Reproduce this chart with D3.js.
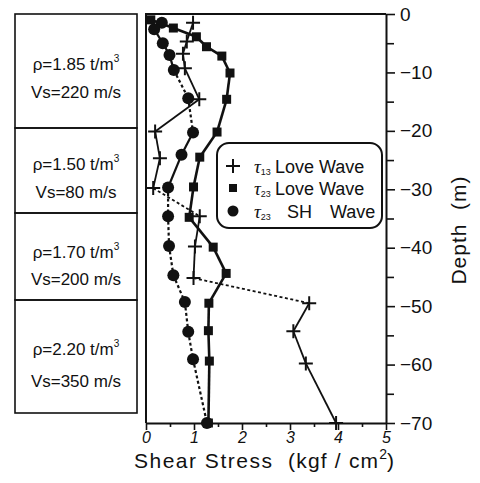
<!DOCTYPE html>
<html><head><meta charset="utf-8">
<script src="https://cdn.jsdelivr.net/npm/d3@7/dist/d3.min.js"></script>
<style>
html,body{margin:0;padding:0;background:#fff;}
svg text{font-family:"Liberation Sans",Arial,Helvetica,sans-serif;fill:#111;white-space:pre;}
</style></head>
<body><svg id="c" width="480" height="483"></svg>
<script>
// ---- data ----
const plusDepth  = [-1.5, -4.7, -6.8, -9.3, -14.6, -20.1, -24.7, -29.8, -34.6, -39.8, -45.2, -49.5, -54.3, -59.8, -70];
const plusStress = [0.98, 0.85, 0.77, 0.81, 1.11, 0.19, 0.29, 0.15, 1.12, 1.02, 0.99, 3.40, 3.07, 3.33, 3.96];
const plusDashedSeg = [7, 10];

const sqDepth  = [-1, -2.4, -3.9, -5.6, -7.2, -10.1, -14.6, -20.2, -24.5, -29.6, -34.8, -39.9, -44.4, -49.5, -54.2, -59.4, -70];
const sqStress = [0.1, 0.57, 1.05, 1.26, 1.58, 1.75, 1.68, 1.48, 1.12, 0.99, 0.90, 1.40, 1.67, 1.31, 1.30, 1.32, 1.30];
const sqDashedSeg = [];

const cirDepth  = [-1.5, -2.6, -5.0, -7.0, -9.6, -14.4, -20.3, -24.1, -29.7, -34.6, -39.7, -44.7, -49.3, -54.4, -59.1, -70];
const cirStress = [0.33, 0.17, 0.35, 0.49, 0.58, 0.88, 0.98, 0.74, 0.46, 0.46, 0.48, 0.57, 0.81, 0.88, 0.98, 1.27];
const cirDashedSeg = [4, 5, 8, 9, 10, 11, 12, 13, 14];

const xTicks = [0, 1, 2, 3, 4, 5];
const yTicks = [0, -10, -20, -30, -40, -50, -60, -70];

const layerRho = ["1.85", "1.50", "1.70", "2.20"];
const layerVs  = ["220", "80", "200", "350"];

// ---- layout ----
const svg = d3.select("#c");
const L = 146, R = 386, T = 14, B = 423;
const x = d3.scaleLinear().domain([0, 5]).range([L, R]);
const y = d3.scaleLinear().domain([0, -70]).range([T, B]);
const ink = "#111";

// frame (left + top)
svg.append("path").attr("d", `M${L},${B}V${T}H${R}`).attr("fill","none").attr("stroke",ink).attr("stroke-width",2);

// bottom axis
const gx = svg.append("g").attr("transform", `translate(0,${B})`)
  .call(d3.axisBottom(x).tickValues(xTicks).tickFormat(d3.format("d")).tickSize(7).tickSizeOuter(0).tickPadding(2));
gx.select(".domain").attr("stroke", ink).attr("stroke-width", 2);
gx.selectAll(".tick line").attr("stroke", ink).attr("stroke-width", 1.6);
gx.selectAll(".tick text").style("font-size","16px").style("font-style","italic").attr("fill",ink);
svg.append("g").attr("transform", `translate(0,${B})`)
  .call(d3.axisBottom(x).tickValues(d3.range(0.5, 5, 1)).tickSize(4).tickFormat(""))
  .call(g => { g.select(".domain").remove(); g.selectAll("line").attr("stroke",ink).attr("stroke-width",1.6); });

// right axis
const gy = svg.append("g").attr("transform", `translate(${R},0)`)
  .call(d3.axisRight(y).tickValues(yTicks).tickSize(9).tickSizeOuter(0).tickPadding(5));
gy.select(".domain").attr("stroke", ink).attr("stroke-width", 2);
gy.selectAll(".tick line").attr("stroke", ink).attr("stroke-width", 1.6);
gy.selectAll(".tick text").style("font-size","19px").attr("fill",ink);
svg.append("g").attr("transform", `translate(${R},0)`)
  .call(d3.axisRight(y).tickValues(d3.range(-5, -70, -10)).tickSize(8).tickFormat(""))
  .call(g => { g.select(".domain").remove(); g.selectAll("line").attr("stroke",ink).attr("stroke-width",1.6); });

// axis titles
const xt = svg.append("text").attr("y", 468).style("font-size","21px");
xt.append("tspan").attr("x", 134).style("letter-spacing","1.5px").text("Shear Stress");
xt.append("tspan").attr("x", 288).style("letter-spacing","1.2px").text("(kgf / cm");
xt.append("tspan").attr("dy", -9).style("font-size","14px").text("2");
xt.append("tspan").attr("dy", 9).text(")");
svg.append("text").attr("transform","translate(466,230) rotate(-90)").attr("text-anchor","middle")
  .style("font-size","21px").style("letter-spacing","1px").text("Depth  (m)");

// series drawing
function drawSeries(ds, vs, dashed, width) {
  const pts = ds.map((d, i) => [x(vs[i]), y(d)]);
  const line = d3.line();
  for (let i = 0; i < pts.length - 1; i++) {
    svg.append("path").attr("d", line([pts[i], pts[i+1]])).attr("fill","none")
      .attr("stroke", ink).attr("stroke-width", width)
      .attr("stroke-dasharray", dashed.includes(i) ? "3,2.5" : null);
  }
  return pts;
}
const plusPts = drawSeries(plusDepth, plusStress, plusDashedSeg, 1.8);
const cirPts = drawSeries(cirDepth, cirStress, cirDashedSeg, 2.2);
const sqPts = drawSeries(sqDepth, sqStress, sqDashedSeg, 2.6);

function plusMark(g, px, py, s) {
  g.append("path").attr("d", `M${px-s},${py}H${px+s}M${px},${py-s}V${py+s}`)
    .attr("stroke", ink).attr("stroke-width", 2).attr("fill","none");
}
cirPts.forEach(p => svg.append("circle").attr("cx",p[0]).attr("cy",p[1]).attr("r",6).attr("fill",ink));
sqPts.forEach(p => svg.append("rect").attr("x",p[0]-4.5).attr("y",p[1]-4.5).attr("width",9).attr("height",9).attr("fill",ink));
plusPts.forEach(p => plusMark(svg, p[0], p[1], 7));

// legend
svg.append("rect").attr("x", 217).attr("y", 143).attr("width", 165).attr("height", 85)
  .attr("rx", 12).attr("fill","#fff").attr("stroke", ink).attr("stroke-width", 2);
const legRows = [
  {sub:"13", words:["Love Wave"], wx:[275], cy:166, mark:"plus"},
  {sub:"23", words:["Love Wave"], wx:[275], cy:188, mark:"sq"},
  {sub:"23", words:["SH", "Wave"], wx:[287, 330], cy:211, mark:"cir"}
];
legRows.forEach(r => {
  if (r.mark === "plus") plusMark(svg, 233, r.cy, 7);
  if (r.mark === "sq") svg.append("rect").attr("x",229).attr("y",r.cy-4).attr("width",8).attr("height",8).attr("fill",ink);
  if (r.mark === "cir") svg.append("circle").attr("cx",233).attr("cy",r.cy).attr("r",5.5).attr("fill",ink);
  const t = svg.append("text").attr("x", 254).attr("y", r.cy + 6.5);
  t.append("tspan").style("font-family","'Liberation Serif',serif").style("font-style","italic").style("font-size","19px").text("τ");
  t.append("tspan").attr("dy", 2).style("font-size","9px").text(r.sub);
  r.words.forEach((w, i) => {
    svg.append("text").attr("x", r.wx[i]).attr("y", r.cy + 6.5).style("font-size","18px").text(w);
  });
});

// layer boxes
const boxEdges = [14, 128, 213, 300, 413];
const boxText = [[70, 98], [170, 198], [258, 285], [355, 387]];
for (let i = 0; i < 4; i++) {
  svg.append("rect").attr("x", 15).attr("y", boxEdges[i]).attr("width", 122)
    .attr("height", boxEdges[i+1] - boxEdges[i]).attr("fill","none").attr("stroke", ink).attr("stroke-width", 1.6);
  const t1 = svg.append("text").attr("x", 76).attr("y", boxText[i][0]).attr("text-anchor","middle").style("font-size","17px");
  t1.append("tspan").text(`ρ=${layerRho[i]} t/m`);
  t1.append("tspan").attr("dy", -8).style("font-size","10px").text("3");
  svg.append("text").attr("x", 76).attr("y", boxText[i][1]).attr("text-anchor","middle").style("font-size","17px")
    .text(`Vs=${layerVs[i]} m/s`);
}
</script></body></html>
